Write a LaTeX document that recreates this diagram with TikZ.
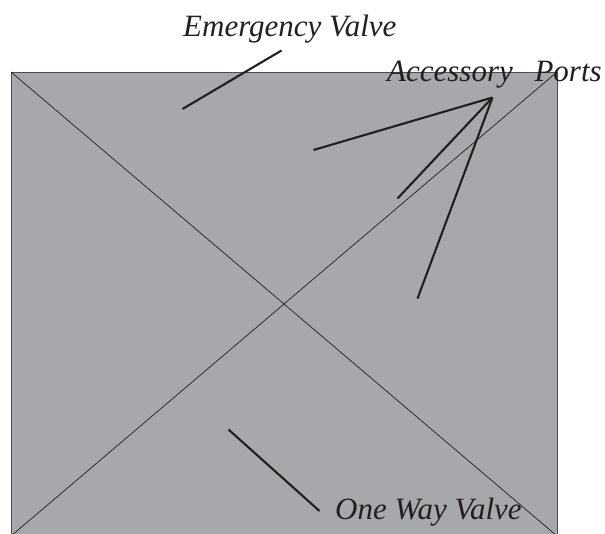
\documentclass[tikz,border=0pt]{standalone}
\usepackage{fontspec}
\setmainfont{Liberation Serif}

\definecolor{panelgray}{RGB}{167,168,171}
\definecolor{inkblack}{RGB}{35,31,32}

\tikzset{
	callout/.style={font=\fontsize{31}{36}\selectfont\itshape, text=inkblack, inner sep=0pt, anchor=base west},
	leader/.style={draw=inkblack, line width=2.1pt},
	crossline/.style={draw=inkblack, line width=0.7pt}
}

\begin{document}
\begin{tikzpicture}[x=1pt, y=-1pt]
	\useasboundingbox (0, 0) rectangle (605, 533);

	\coordinate (tl) at (11, 72);
	\coordinate (tr) at (557, 72);
	\coordinate (bl) at (11, 536);
	\coordinate (br) at (557, 536);

	\filldraw[fill=panelgray, draw=inkblack!80, line width=0.9pt] (tl) rectangle (br);
	\draw[crossline] (tl) -- (br);
	\draw[crossline] (bl) -- (tr);

	\node[callout] (emergency) at (183, 36) {Emergency Valve};
	\node[callout] (ports) at (387, 81) {Accessory\hspace{0.7em}Ports};
	\node[callout] (oneway) at (335, 519) {One Way Valve};

	\coordinate (emergencyA) at (281.5, 50.5);
	\coordinate (emergencyB) at (182.5, 109);
	\coordinate (portsA) at (492.5, 97.5);
	\coordinate (portsB) at (313.5, 150);
	\coordinate (portsC) at (397.5, 198.5);
	\coordinate (portsD) at (417.5, 298.5);
	\coordinate (onewayA) at (228.5, 429.5);
	\coordinate (onewayB) at (319.5, 511);

	\draw[leader] (emergencyA) -- (emergencyB);
	\draw[leader] (portsA) -- (portsB);
	\draw[leader] (portsA) -- (portsC);
	\draw[leader] (portsA) -- (portsD);
	\draw[leader] (onewayA) -- (onewayB);

\end{tikzpicture}
\end{document}
